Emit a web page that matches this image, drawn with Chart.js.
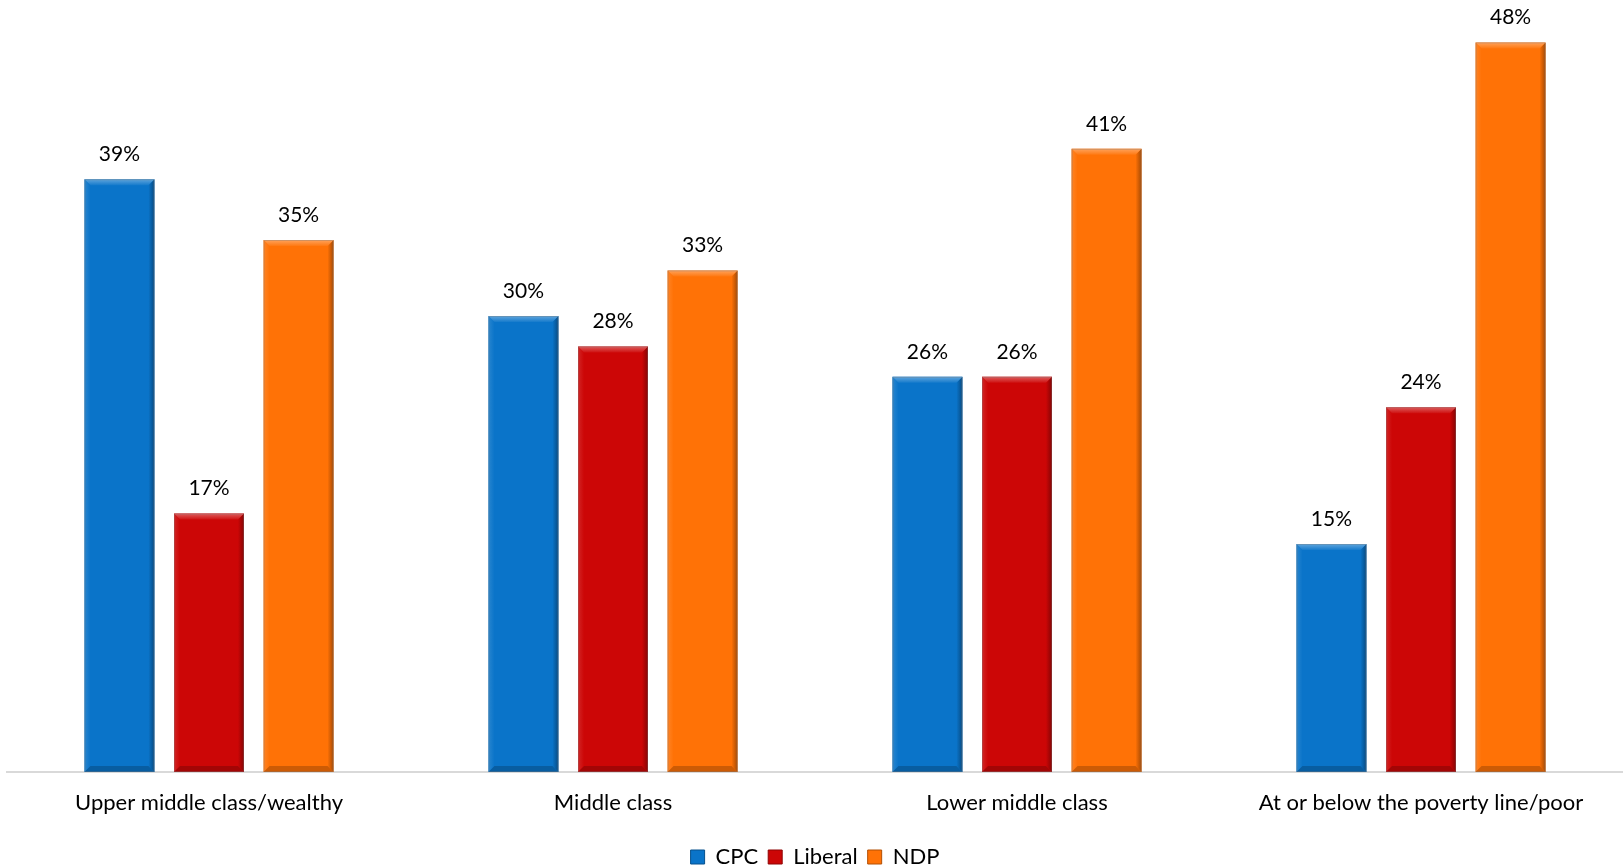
<!DOCTYPE html>
<html>
<head>
<meta charset="utf-8">
<script src="https://cdn.jsdelivr.net/npm/chart.js@4"></script>
<style>
html,body{margin:0;padding:0;background:#fff;}
#wrap{width:1623px;height:868px;position:relative;}
</style>
</head>
<body>
<div id="wrap"><canvas id="c" width="1623" height="868"></canvas></div>
<script>
const categories = ["Upper middle class/wealthy", "Middle class", "Lower middle class", "At or below the poverty line/poor"];
const seriesNames = ["CPC", "Liberal", "NDP"];
const cpcValues = [39, 30, 26, 15];
const liberalValues = [17, 28, 26, 24];
const ndpValues = [35, 33, 41, 48];
const seriesColors = ["#0a74c9", "#cc0606", "#ff7206"];
const FONT = "Lato, 'Open Sans', sans-serif";

function shade(hex, amt) {
  const n = parseInt(hex.slice(1), 16);
  let r = (n >> 16) & 255, g = (n >> 8) & 255, b = n & 255;
  const f = c => Math.max(0, Math.min(255, Math.round(amt >= 0 ? c + (255 - c) * amt : c * (1 + amt))));
  return `rgb(${f(r)},${f(g)},${f(b)})`;
}

const bevelPlugin = {
  id: 'bevel',
  afterDatasetsDraw(chart) {
    const ctx = chart.ctx;
    chart.data.datasets.forEach((ds, di) => {
      const meta = chart.getDatasetMeta(di);
      const col = ds.backgroundColor;
      meta.data.forEach(bar => {
        const left = bar.x - bar.width / 2, right = bar.x + bar.width / 2;
        const top = bar.y, bottom = bar.base;
        const b = 6;
        ctx.save();
        let g = ctx.createLinearGradient(right - b, 0, right, 0);
        g.addColorStop(0, shade(col, 0));
        g.addColorStop(1, shade(col, -0.35));
        ctx.fillStyle = g;
        ctx.beginPath();
        ctx.moveTo(right - b, top + b); ctx.lineTo(right, top); ctx.lineTo(right, bottom); ctx.lineTo(right - b, bottom - b);
        ctx.closePath(); ctx.fill();
        g = ctx.createLinearGradient(left, 0, left + b, 0);
        g.addColorStop(0, shade(col, 0.12));
        g.addColorStop(1, shade(col, 0));
        ctx.fillStyle = g;
        ctx.beginPath();
        ctx.moveTo(left, top); ctx.lineTo(left + b, top + b); ctx.lineTo(left + b, bottom - b); ctx.lineTo(left, bottom);
        ctx.closePath(); ctx.fill();
        g = ctx.createLinearGradient(0, top, 0, top + b);
        g.addColorStop(0, shade(col, 0.35));
        g.addColorStop(1, shade(col, 0.05));
        ctx.fillStyle = g;
        ctx.beginPath();
        ctx.moveTo(left, top); ctx.lineTo(right, top); ctx.lineTo(right - b, top + b); ctx.lineTo(left + b, top + b);
        ctx.closePath(); ctx.fill();
        ctx.fillStyle = shade(col, -0.2);
        ctx.beginPath();
        ctx.moveTo(left, bottom); ctx.lineTo(right, bottom); ctx.lineTo(right - b, bottom - b); ctx.lineTo(left + b, bottom - b);
        ctx.closePath(); ctx.fill();
        ctx.strokeStyle = 'rgba(120,120,120,0.35)';
        ctx.lineWidth = 1;
        ctx.strokeRect(left + 0.5, top + 0.5, bar.width - 1, bottom - top - 1);
        ctx.restore();
      });
    });
  }
};

const labelPlugin = {
  id: 'valueLabels',
  afterDatasetsDraw(chart) {
    const ctx = chart.ctx;
    ctx.save();
    ctx.font = `21px ${FONT}`;
    ctx.fillStyle = '#000';
    ctx.textAlign = 'center';
    ctx.textBaseline = 'middle';
    chart.data.datasets.forEach((ds, di) => {
      const meta = chart.getDatasetMeta(di);
      meta.data.forEach((bar, i) => {
        ctx.fillText(ds.data[i] + '%', bar.x, bar.y - 25);
      });
    });
    ctx.restore();
  }
};

const allValues = [cpcValues, liberalValues, ndpValues];

new Chart(document.getElementById('c'), {
  type: 'bar',
  data: {
    labels: categories,
    datasets: seriesNames.map((name, i) => ({
      label: name,
      data: allValues[i],
      backgroundColor: seriesColors[i],
      borderWidth: 0,
      barPercentage: 0.78,
      categoryPercentage: 0.665
    }))
  },
  options: {
    responsive: false,
    animation: false,
    layout: { padding: { left: 7, right: 0, top: 12, bottom: -10 } },
    scales: {
      x: {
        grid: { display: false, drawTicks: false },
        border: { display: true, color: '#d9d9d9', width: 2 },
        ticks: { color: '#000', font: { family: FONT, size: 22 }, padding: 18 },
        afterFit(scale) { scale.height = 64; }
      },
      y: {
        display: false,
        min: 0,
        max: 50
      }
    },
    plugins: {
      legend: {
        position: 'bottom',
        labels: {
          color: '#000',
          font: { family: FONT, size: 22 },
          boxWidth: 14,
          boxHeight: 14,
          padding: 10,
          generateLabels(chart) {
            return chart.data.datasets.map((ds, i) => ({
              text: ds.label,
              fillStyle: ds.backgroundColor,
              strokeStyle: shade(ds.backgroundColor, -0.3),
              lineWidth: 1,
              datasetIndex: i,
              hidden: false
            }));
          }
        }
      },
      tooltip: { enabled: false }
    }
  },
  plugins: [bevelPlugin, labelPlugin]
});
</script>
</body>
</html>
